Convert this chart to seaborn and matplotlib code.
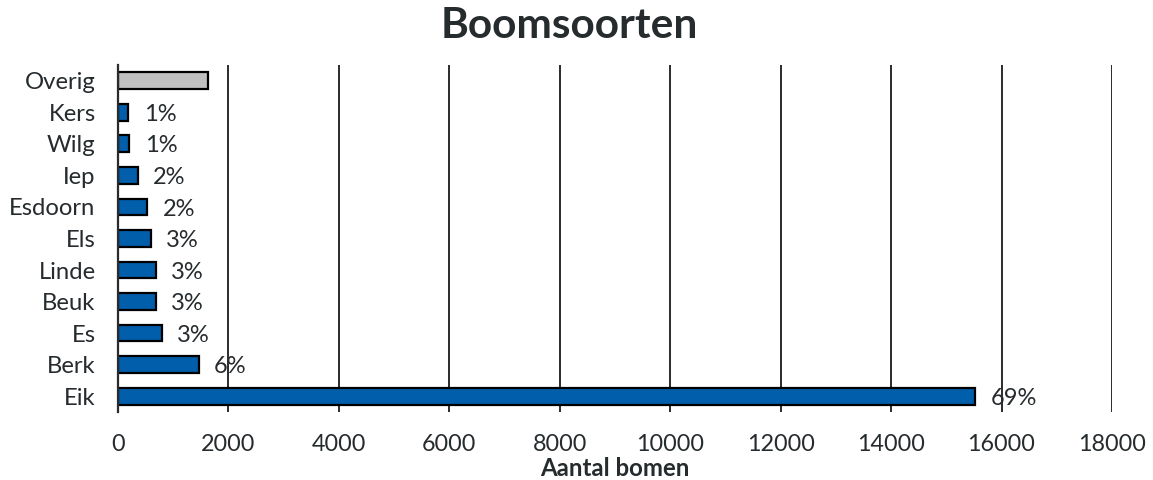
import matplotlib
matplotlib.use("Agg")
import matplotlib.pyplot as plt
import seaborn as sns
import pandas as pd

# Tree species counts, top row first
soorten = ["Overig", "Kers", "Wilg", "Iep", "Esdoorn", "Els", "Linde", "Beuk", "Es", "Berk", "Eik"]
aantallen = [1630, 187, 205, 356, 531, 592, 682, 688, 797, 1467, 15520]
percentages = ["", "1%", "1%", "2%", "2%", "3%", "3%", "3%", "3%", "6%", "69%"]
groep = ["overig"] + ["soort"] * 10
xticks = [0, 2000, 4000, 6000, 8000, 10000, 12000, 14000, 16000, 18000]

sns.set_theme(style="white")
plt.rcParams["font.family"] = ["Lato", "DejaVu Sans"]
tekstkleur = "#262b2e"

df = pd.DataFrame({"soort": soorten, "aantal": aantallen, "groep": groep})

fig = plt.figure(figsize=(11.53, 4.80), dpi=100)
ax = fig.add_axes([0.1023, 0.1417, 0.8621, 0.7229])

sns.barplot(
    data=df, x="aantal", y="soort", hue="groep", order=soorten,
    palette={"overig": "#c0c0c0", "soort": "#005eaa"}, saturation=1,
    width=0.53, edgecolor="black", linewidth=1.6, legend=False, ax=ax,
)

for i, (v, p) in enumerate(zip(aantallen, percentages)):
    if p:
        ax.annotate(p, (v, i), xytext=(11, -1.5), textcoords="offset points",
                    ha="left", va="center", fontsize=17, color=tekstkleur)

ax.set_xlim(0, 18000)
ax.set_ylim(len(soorten) - 0.5, -0.5)
ax.set_xticks(xticks)
ax.set_xticklabels([str(t) for t in xticks])
for t in xticks[1:]:
    ax.axvline(t, color="#2b2b2b", linewidth=1.4, zorder=0)

for side in ["top", "right", "bottom"]:
    ax.spines[side].set_visible(False)
ax.spines["left"].set_color("#2b2b2b")
ax.spines["left"].set_linewidth(1.6)

ax.tick_params(axis="x", length=0, pad=16, labelsize=16.8, labelcolor=tekstkleur)
ax.tick_params(axis="y", length=0, pad=16, labelsize=17.2, labelcolor=tekstkleur)

ax.set_ylabel("")
ax.set_xlabel("Aantal bomen", fontsize=17.3, fontweight="bold", color=tekstkleur, labelpad=1.5)
fig.suptitle("Boomsoorten", x=0.494, y=0.985, fontsize=30.5, fontweight="bold", color=tekstkleur)

fig.savefig("out.png", dpi=100, facecolor="white")
